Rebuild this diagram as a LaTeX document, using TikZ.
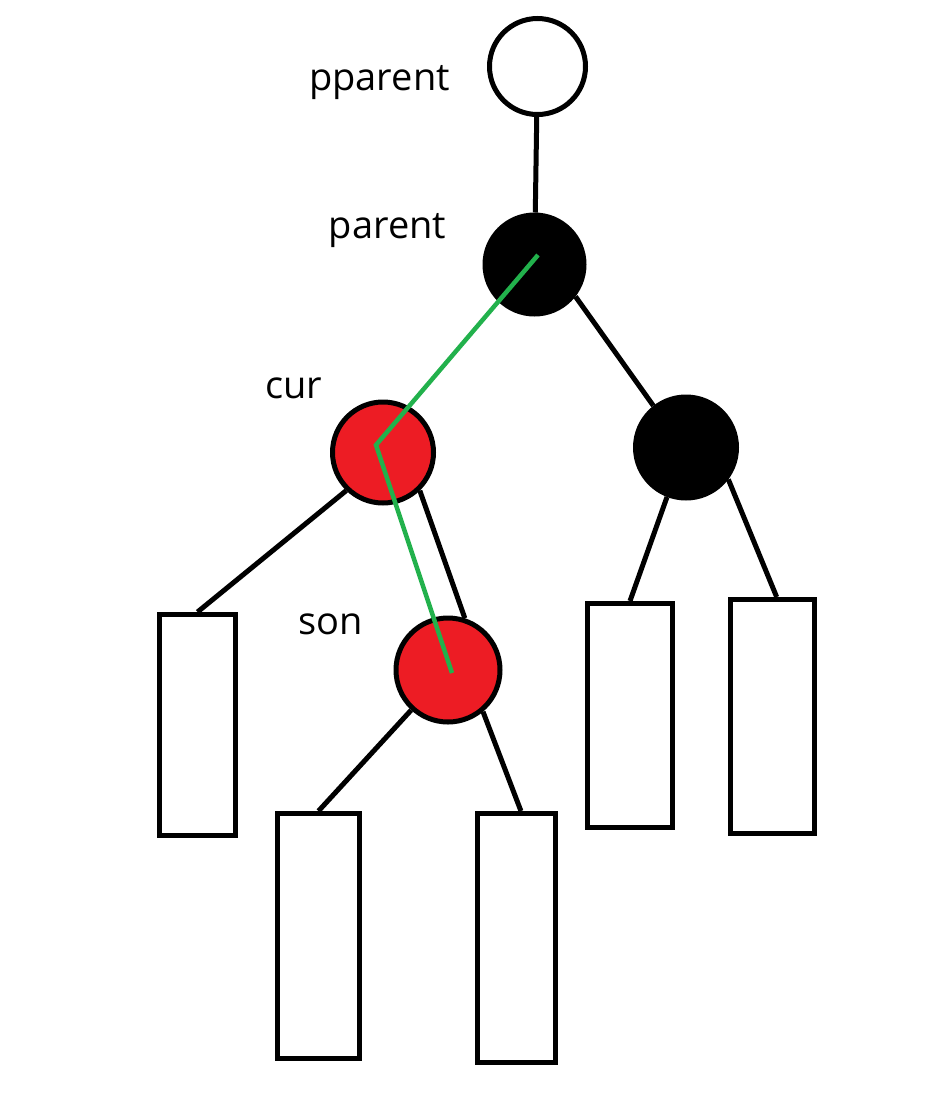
\documentclass[tikz,border=0pt]{standalone}
\usepackage{fontspec}
\setmainfont{Open Sans}
\definecolor{rbred}{HTML}{ED1C24}
\definecolor{pathgreen}{HTML}{22B14C}
\begin{document}
\begin{tikzpicture}[x=1pt,y=-1pt,
  rbnode/.style={circle,draw=black,line width=5pt,inner sep=0pt},
  leaf/.style={rectangle,draw=black,fill=white,line width=5pt,inner sep=0pt},
  tag/.style={inner sep=0pt,anchor=base,font=\fontsize{38}{46}\selectfont},
  edge/.style={line width=5pt,black},
  walk/.style={line width=4.5pt,pathgreen}]
\useasboundingbox (0,0) rectangle (946,1114);
% tree nodes
\node [rbnode,fill=white,minimum size=96pt] (pparent) at (537.5,66.5) {};
\node [rbnode,fill=black,minimum size=99pt] (parent) at (534.5,264.5) {};
\node [rbnode,fill=rbred,minimum size=101pt] (cur) at (383,452.5) {};
\node [rbnode,fill=black,minimum size=101pt] (uncle) at (686,447.5) {};
\node [rbnode,fill=rbred,minimum size=104pt] (son) at (448,670) {};
% leaves
\node [leaf,minimum width=76pt,minimum height=221pt] (leaf1) at (197.5,725) {};
\node [leaf,minimum width=82pt,minimum height=245pt] (leaf2) at (318.5,936) {};
\node [leaf,minimum width=78pt,minimum height=249pt] (leaf3) at (516.5,938) {};
\node [leaf,minimum width=85pt,minimum height=224pt] (leaf4) at (630,715.5) {};
\node [leaf,minimum width=84pt,minimum height=234pt] (leaf5) at (772.5,716.5) {};
% labels
\node [tag] (pparent-tag) at (379.5,90) {pparent};
\node [tag] (parent-tag) at (387.5,238) {parent};
\node [tag] (cur-tag) at (294,398) {cur};
\node [tag] (son-tag) at (331,634) {son};
% edges
\draw [edge] (pparent) -- (parent);
\draw [edge] (parent.322) -- (uncle.128);
\draw [edge] (cur.226) -- (leaf1.north);
\draw [edge] (cur.314) -- (son.72);
\draw [edge] (uncle.249) -- (leaf4.north);
\draw [edge] (uncle.323) -- (leaf5.88);
\draw [edge] (son) -- (leaf2.north);
\draw [edge] (son.310) -- (leaf3.88);
% rotation path
\coordinate (walk-start) at (538,255);
\coordinate (walk-bend) at (376,445);
\coordinate (walk-end) at (452,673);
\draw [walk] (walk-start) -- (walk-bend) -- (walk-end);
\end{tikzpicture}
\end{document}
